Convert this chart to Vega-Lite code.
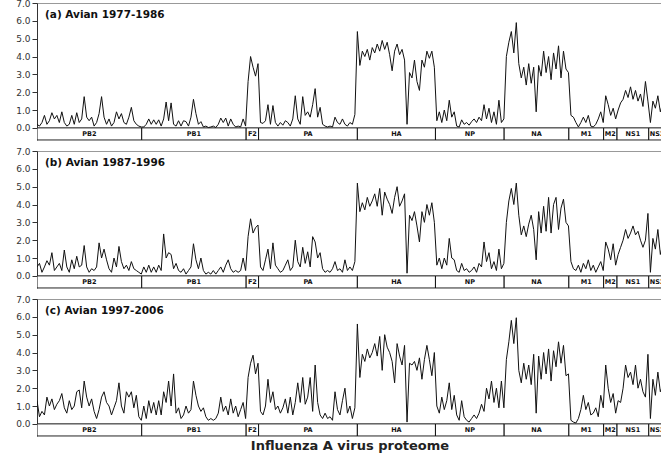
{
"$schema": "https://vega.github.io/schema/vega-lite/v6.json",
"autosize": {"type": "pad"},
"padding": {"left": 15, "top": -2, "right": 0, "bottom": 0},
"spacing": 5,
"config": {"view": {"stroke": "#999", "strokeWidth": 1}, "font": "DejaVu Sans"},
"datasets": {
"ent": [
{"x":0,"a":0.2,"b":0.5,"c":1.3},{"x":18,"a":0.1,"b":0.7,"c":0.4},{"x":36,"a":0.3,"b":0.2,"c":0.7},{"x":54,"a":0.7,"b":0.5,"c":0.5},{"x":72,"a":0.2,"b":0.85,"c":1.5},{"x":90,"a":0.4,"b":0.6,"c":1.0},{"x":108,"a":0.85,"b":1.3,"c":1.4},{"x":126,"a":0.5,"b":0.3,"c":0.8},{"x":144,"a":0.7,"b":0.5,"c":1.1},{"x":162,"a":0.3,"b":0.7,"c":1.3},
{"x":180,"a":0.9,"b":0.3,"c":1.7},{"x":198,"a":0.3,"b":1.45,"c":0.9},{"x":216,"a":0.1,"b":0.5,"c":0.6},{"x":234,"a":0.2,"b":0.2,"c":1.3},{"x":252,"a":0.7,"b":0.9,"c":0.8},{"x":270,"a":0.2,"b":0.4,"c":1.0},{"x":288,"a":0.85,"b":1.1,"c":1.8},{"x":306,"a":0.3,"b":0.5,"c":1.9},{"x":324,"a":0.5,"b":0.6,"c":0.9},{"x":342,"a":1.75,"b":1.7,"c":2.4},
{"x":360,"a":0.6,"b":0.5,"c":1.5},{"x":378,"a":0.4,"b":0.2,"c":1.0},{"x":396,"a":0.6,"b":0.4,"c":1.4},{"x":414,"a":0.1,"b":0.3,"c":0.7},{"x":432,"a":0.3,"b":0.5,"c":0.3},{"x":450,"a":0.8,"b":1.85,"c":0.8},{"x":468,"a":1.75,"b":1.0,"c":1.5},{"x":486,"a":0.6,"b":1.5,"c":1.8},{"x":504,"a":0.2,"b":0.9,"c":1.2},{"x":522,"a":0.5,"b":0.4,"c":1.0},
{"x":540,"a":0.1,"b":0.2,"c":0.5},{"x":558,"a":0.3,"b":1.0,"c":0.9},{"x":576,"a":0.9,"b":0.5,"c":1.3},{"x":594,"a":0.5,"b":1.65,"c":2.3},{"x":612,"a":0.8,"b":0.8,"c":1.0},{"x":630,"a":0.3,"b":0.4,"c":0.6},{"x":648,"a":0.2,"b":0.6,"c":1.8},{"x":666,"a":0.6,"b":0.3,"c":1.5},{"x":684,"a":1.15,"b":0.8,"c":1.8},{"x":702,"a":0.4,"b":0.4,"c":0.9},
{"x":720,"a":0.2,"b":0.3,"c":1.6},{"x":738,"a":0.1,"b":0.2,"c":0.4},{"x":756,"a":0.05,"b":0.1,"c":0.2},{"x":774,"a":0.05,"b":0.5,"c":1.0},{"x":792,"a":0.2,"b":0.2,"c":0.3},{"x":810,"a":0.5,"b":0.6,"c":1.3},{"x":828,"a":0.2,"b":0.2,"c":0.6},{"x":846,"a":0.45,"b":0.5,"c":1.2},{"x":864,"a":0.2,"b":0.2,"c":0.5},{"x":882,"a":0.45,"b":0.6,"c":1.3},
{"x":900,"a":0.1,"b":0.3,"c":0.5},{"x":918,"a":0.5,"b":2.35,"c":1.8},{"x":936,"a":1.45,"b":1.0,"c":1.2},{"x":954,"a":0.4,"b":1.3,"c":2.4},{"x":972,"a":1.4,"b":1.2,"c":1.0},{"x":990,"a":0.2,"b":0.4,"c":2.8},{"x":1008,"a":0.1,"b":0.7,"c":0.6},{"x":1026,"a":0.4,"b":0.3,"c":0.9},{"x":1044,"a":0.1,"b":0.2,"c":0.3},{"x":1062,"a":0.4,"b":0.4,"c":0.5},
{"x":1080,"a":0.35,"b":0.1,"c":1.0},{"x":1098,"a":0.1,"b":0.3,"c":0.6},{"x":1116,"a":0.6,"b":0.5,"c":0.8},{"x":1134,"a":1.6,"b":1.8,"c":2.4},{"x":1152,"a":0.8,"b":0.9,"c":1.6},{"x":1170,"a":0.2,"b":0.4,"c":1.0},{"x":1188,"a":0.35,"b":1.0,"c":0.7},{"x":1206,"a":0.05,"b":0.3,"c":0.9},{"x":1224,"a":0.1,"b":0.1,"c":0.4},{"x":1242,"a":0.02,"b":0.2,"c":0.2},
{"x":1260,"a":0.05,"b":0.1,"c":0.3},{"x":1278,"a":0.1,"b":0.3,"c":0.2},{"x":1296,"a":0.02,"b":0.1,"c":0.3},{"x":1314,"a":0.2,"b":0.3,"c":0.6},{"x":1332,"a":0.55,"b":0.5,"c":1.5},{"x":1350,"a":0.3,"b":0.2,"c":0.7},{"x":1368,"a":0.55,"b":0.6,"c":1.0},{"x":1386,"a":0.1,"b":0.9,"c":0.5},{"x":1404,"a":0.5,"b":0.4,"c":1.4},{"x":1422,"a":0.2,"b":0.2,"c":0.6},
{"x":1440,"a":0.05,"b":0.3,"c":1.0},{"x":1458,"a":0.1,"b":0.2,"c":0.4},{"x":1476,"a":0.05,"b":0.3,"c":0.8},{"x":1494,"a":0.5,"b":1.0,"c":1.2},{"x":1512,"a":0.1,"b":0.3,"c":0.3},{"x":1530,"a":2.6,"b":2.2,"c":2.6},{"x":1548,"a":4.0,"b":3.2,"c":3.4},{"x":1566,"a":3.4,"b":2.4,"c":3.85},{"x":1584,"a":2.9,"b":2.7,"c":2.8},{"x":1602,"a":3.6,"b":2.85,"c":3.4},
{"x":1620,"a":0.3,"b":0.5,"c":0.7},{"x":1638,"a":0.25,"b":0.3,"c":0.5},{"x":1656,"a":0.4,"b":0.9,"c":1.0},{"x":1674,"a":1.3,"b":1.5,"c":2.5},{"x":1692,"a":0.2,"b":0.4,"c":1.2},{"x":1710,"a":1.25,"b":1.85,"c":1.8},{"x":1728,"a":0.3,"b":0.6,"c":0.8},{"x":1746,"a":0.1,"b":0.4,"c":1.0},{"x":1764,"a":0.3,"b":0.2,"c":0.6},{"x":1782,"a":0.15,"b":0.3,"c":0.9},
{"x":1800,"a":0.4,"b":0.6,"c":1.4},{"x":1818,"a":0.3,"b":0.9,"c":0.6},{"x":1836,"a":0.1,"b":0.3,"c":1.5},{"x":1854,"a":0.5,"b":0.5,"c":0.5},{"x":1872,"a":1.8,"b":2.0,"c":1.2},{"x":1890,"a":0.5,"b":0.8,"c":2.3},{"x":1908,"a":0.2,"b":0.5,"c":1.2},{"x":1926,"a":1.75,"b":1.6,"c":2.6},{"x":1944,"a":0.7,"b":0.7,"c":1.1},{"x":1962,"a":0.9,"b":1.35,"c":1.5},
{"x":1980,"a":0.6,"b":0.5,"c":2.6},{"x":1998,"a":1.3,"b":2.2,"c":0.7},{"x":2016,"a":2.2,"b":1.9,"c":3.3},{"x":2034,"a":0.6,"b":1.0,"c":1.2},{"x":2052,"a":1.15,"b":1.3,"c":0.5},{"x":2070,"a":0.2,"b":0.4,"c":0.3},{"x":2088,"a":0.1,"b":0.2,"c":0.6},{"x":2106,"a":0.05,"b":0.3,"c":0.3},{"x":2124,"a":0.1,"b":0.2,"c":0.4},{"x":2142,"a":0.05,"b":0.4,"c":0.2},
{"x":2160,"a":0.6,"b":0.8,"c":1.8},{"x":2178,"a":0.3,"b":0.3,"c":0.8},{"x":2196,"a":0.2,"b":0.4,"c":0.5},{"x":2214,"a":0.5,"b":0.2,"c":1.3},{"x":2232,"a":0.2,"b":0.9,"c":2.0},{"x":2250,"a":0.1,"b":0.3,"c":0.6},{"x":2268,"a":0.3,"b":0.5,"c":1.0},{"x":2286,"a":0.2,"b":0.3,"c":0.3},{"x":2304,"a":0.75,"b":0.8,"c":0.9},{"x":2322,"a":5.4,"b":5.2,"c":5.6},
{"x":2340,"a":3.5,"b":3.6,"c":2.6},{"x":2358,"a":4.3,"b":4.1,"c":3.9},{"x":2376,"a":4.0,"b":3.7,"c":3.5},{"x":2394,"a":4.4,"b":4.4,"c":4.2},{"x":2412,"a":3.8,"b":3.9,"c":3.7},{"x":2430,"a":4.5,"b":4.2,"c":4.0},{"x":2448,"a":4.2,"b":4.6,"c":4.5},{"x":2466,"a":4.7,"b":3.9,"c":3.8},{"x":2484,"a":4.3,"b":4.9,"c":4.9},{"x":2502,"a":4.9,"b":3.4,"c":3.0},
{"x":2520,"a":4.4,"b":4.7,"c":5.0},{"x":2538,"a":4.8,"b":4.3,"c":4.3},{"x":2556,"a":4.1,"b":4.0,"c":4.0},{"x":2574,"a":3.2,"b":3.5,"c":3.5},{"x":2592,"a":4.3,"b":4.4,"c":2.3},{"x":2610,"a":4.7,"b":5.0,"c":4.5},{"x":2628,"a":4.1,"b":3.9,"c":3.8},{"x":2646,"a":4.4,"b":4.2,"c":3.3},{"x":2664,"a":3.8,"b":4.6,"c":4.4},{"x":2682,"a":0.2,"b":0.15,"c":0.1},
{"x":2700,"a":3.1,"b":3.4,"c":3.4},{"x":2718,"a":2.8,"b":3.1,"c":3.3},{"x":2736,"a":3.8,"b":3.6,"c":3.5},{"x":2754,"a":2.6,"b":2.8,"c":3.0},{"x":2772,"a":2.1,"b":1.9,"c":3.7},{"x":2790,"a":3.8,"b":3.6,"c":2.5},{"x":2808,"a":3.4,"b":3.0,"c":3.6},{"x":2826,"a":4.3,"b":4.0,"c":4.4},{"x":2844,"a":3.9,"b":3.4,"c":3.6},{"x":2862,"a":4.3,"b":4.1,"c":2.7},
{"x":2880,"a":3.4,"b":3.0,"c":4.0},{"x":2898,"a":0.4,"b":0.6,"c":1.0},{"x":2916,"a":0.9,"b":1.0,"c":0.6},{"x":2934,"a":0.3,"b":0.4,"c":1.5},{"x":2952,"a":1.0,"b":1.0,"c":0.8},{"x":2970,"a":0.4,"b":0.6,"c":1.3},{"x":2988,"a":1.55,"b":2.1,"c":2.3},{"x":3006,"a":0.6,"b":1.0,"c":0.8},{"x":3024,"a":0.9,"b":0.9,"c":1.6},{"x":3042,"a":0.1,"b":0.3,"c":0.5},
{"x":3060,"a":0.05,"b":0.2,"c":0.2},{"x":3078,"a":0.45,"b":0.7,"c":1.3},{"x":3096,"a":0.2,"b":0.3,"c":0.4},{"x":3114,"a":0.3,"b":0.4,"c":0.2},{"x":3132,"a":0.15,"b":0.2,"c":0.1},{"x":3150,"a":0.35,"b":0.3,"c":0.3},{"x":3168,"a":0.5,"b":0.5,"c":0.5},{"x":3186,"a":0.3,"b":0.2,"c":0.3},{"x":3204,"a":0.6,"b":0.7,"c":0.6},{"x":3222,"a":0.4,"b":0.5,"c":1.1},
{"x":3240,"a":1.3,"b":1.9,"c":0.7},{"x":3258,"a":0.5,"b":0.8,"c":2.0},{"x":3276,"a":1.1,"b":1.3,"c":1.4},{"x":3294,"a":0.3,"b":0.4,"c":2.4},{"x":3312,"a":0.9,"b":0.8,"c":1.2},{"x":3330,"a":0.2,"b":0.3,"c":2.0},{"x":3348,"a":1.55,"b":1.5,"c":0.9},{"x":3366,"a":0.3,"b":0.4,"c":2.4},{"x":3384,"a":0.5,"b":0.7,"c":0.9},{"x":3402,"a":4.0,"b":3.0,"c":3.6},
{"x":3420,"a":4.8,"b":4.2,"c":4.6},{"x":3438,"a":5.4,"b":4.9,"c":5.8},{"x":3456,"a":4.2,"b":4.0,"c":4.5},{"x":3474,"a":5.9,"b":5.2,"c":5.95},{"x":3492,"a":3.6,"b":3.4,"c":3.0},{"x":3510,"a":2.8,"b":2.3,"c":2.3},{"x":3528,"a":3.4,"b":2.8,"c":3.4},{"x":3546,"a":2.4,"b":2.2,"c":2.5},{"x":3564,"a":3.6,"b":2.9,"c":3.3},{"x":3582,"a":2.5,"b":3.4,"c":2.2},
{"x":3600,"a":3.4,"b":2.6,"c":3.9},{"x":3618,"a":0.9,"b":0.9,"c":0.6},{"x":3636,"a":3.5,"b":3.6,"c":3.8},{"x":3654,"a":2.9,"b":2.4,"c":2.5},{"x":3672,"a":4.3,"b":3.9,"c":4.0},{"x":3690,"a":3.1,"b":2.5,"c":2.8},{"x":3708,"a":4.0,"b":4.4,"c":4.2},{"x":3726,"a":2.7,"b":2.4,"c":2.4},{"x":3744,"a":4.2,"b":4.0,"c":4.1},{"x":3762,"a":3.3,"b":4.4,"c":3.2},
{"x":3780,"a":4.6,"b":2.6,"c":4.6},{"x":3798,"a":2.8,"b":3.8,"c":3.4},{"x":3816,"a":4.3,"b":4.3,"c":4.4},{"x":3834,"a":3.3,"b":3.0,"c":2.7},{"x":3852,"a":3.1,"b":2.8,"c":2.8},{"x":3870,"a":0.7,"b":0.8,"c":0.2},{"x":3888,"a":0.6,"b":0.4,"c":0.1},{"x":3906,"a":0.3,"b":0.3,"c":0.05},{"x":3924,"a":0.05,"b":0.6,"c":0.3},{"x":3942,"a":0.3,"b":0.2,"c":0.8},
{"x":3960,"a":0.6,"b":0.7,"c":1.6},{"x":3978,"a":0.3,"b":0.4,"c":0.8},{"x":3996,"a":0.7,"b":0.9,"c":1.2},{"x":4014,"a":0.1,"b":0.3,"c":0.5},{"x":4032,"a":0.05,"b":0.6,"c":0.6},{"x":4050,"a":0.2,"b":0.2,"c":0.9},{"x":4068,"a":0.5,"b":0.5,"c":0.4},{"x":4086,"a":0.9,"b":0.8,"c":1.6},{"x":4104,"a":0.3,"b":0.3,"c":0.9},{"x":4122,"a":1.8,"b":1.9,"c":3.3},
{"x":4140,"a":1.3,"b":1.5,"c":2.0},{"x":4158,"a":0.7,"b":0.9,"c":1.2},{"x":4176,"a":1.1,"b":1.8,"c":1.7},{"x":4194,"a":0.5,"b":0.6,"c":0.6},{"x":4212,"a":1.0,"b":1.2,"c":1.3},{"x":4230,"a":1.4,"b":1.6,"c":1.2},{"x":4248,"a":1.6,"b":2.0,"c":2.0},{"x":4266,"a":2.1,"b":2.6,"c":3.3},{"x":4284,"a":1.7,"b":2.1,"c":2.6},{"x":4302,"a":2.3,"b":2.4,"c":2.9},
{"x":4320,"a":1.6,"b":2.8,"c":2.2},{"x":4338,"a":2.1,"b":2.3,"c":3.3},{"x":4356,"a":1.5,"b":2.5,"c":2.0},{"x":4374,"a":1.9,"b":2.0,"c":2.5},{"x":4392,"a":1.2,"b":1.6,"c":1.8},{"x":4410,"a":2.6,"b":2.0,"c":1.5},{"x":4428,"a":1.5,"b":3.5,"c":3.9},{"x":4446,"a":0.3,"b":0.2,"c":0.3},{"x":4464,"a":1.5,"b":2.1,"c":2.5},{"x":4482,"a":1.1,"b":1.5,"c":1.6},
{"x":4500,"a":1.8,"b":2.6,"c":2.9},{"x":4518,"a":0.9,"b":1.2,"c":1.8},{"x":4536,"a":1.4,"b":1.8,"c":2.2}
],
"prot": [
{"protein":"PB2","start":0,"end":759,"mid":379.5},
{"protein":"PB1","start":759,"end":1516,"mid":1137.5},
{"protein":"F2","start":1516,"end":1606,"mid":1561},
{"protein":"PA","start":1606,"end":2322,"mid":1964},
{"protein":"HA","start":2322,"end":2888,"mid":2605},
{"protein":"NP","start":2888,"end":3386,"mid":3137},
{"protein":"NA","start":3386,"end":3855,"mid":3620.5},
{"protein":"M1","start":3855,"end":4107,"mid":3981},
{"protein":"M2","start":4107,"end":4204,"mid":4155.5},
{"protein":"NS1","start":4204,"end":4434,"mid":4319},
{"protein":"NS2","start":4434,"end":4555,"mid":4494.5}
]
},
"vconcat": [
{
"width": 625, "height": 137,
"encoding": {
 "y": {"type": "quantitative", "scale": {"domain": [-0.68, 7], "nice": false, "zero": false}, "axis": {"values": [0,1,2,3,4,5,6,7], "format": ".1f", "title": null, "grid": false, "labelFontSize": 9, "labelFont": "DejaVu Sans", "labelColor": "#333", "tickColor": "#333", "domainColor": "#333", "tickSize": 5, "labelPadding": 2}}
},
"layer": [
{"data": {"name": "prot"}, "mark": {"type": "rect", "fill": "white", "stroke": "#111", "strokeWidth": 1, "clip": true},
 "encoding": {"x": {"field": "start", "type": "quantitative", "scale": {"domain": [0, 4530], "nice": false, "zero": false}, "axis": null}, "x2": {"field": "end"},
  "y": {"datum": -0.68, "type": "quantitative"}, "y2": {"datum": 0}}},
{"data": {"name": "prot"}, "mark": {"type": "text", "fontSize": 6.5, "fontWeight": "bold", "font": "DejaVu Sans", "baseline": "middle", "color": "#111", "clip": true},
 "encoding": {"x": {"field": "mid", "type": "quantitative", "axis": null}, "y": {"datum": -0.34, "type": "quantitative"}, "text": {"field": "protein"}}},
{"data": {"name": "ent"}, "mark": {"type": "line", "color": "#111", "strokeWidth": 1, "clip": true},
 "encoding": {"x": {"field": "x", "type": "quantitative", "axis": null}, "y": {"field": "a", "type": "quantitative"}}},
{"data": {"values": [{"label": "(a) Avian 1977-1986"}]}, "mark": {"type": "text", "align": "left", "baseline": "middle", "fontSize": 10.5, "fontWeight": "bold", "font": "DejaVu Sans", "color": "#111"},
 "encoding": {"x": {"datum": 58, "type": "quantitative", "axis": null}, "y": {"datum": 6.32, "type": "quantitative"}, "text": {"field": "label"}}}
]
},
{
"width": 625, "height": 137,
"encoding": {
 "y": {"type": "quantitative", "scale": {"domain": [-0.68, 7], "nice": false, "zero": false}, "axis": {"values": [0,1,2,3,4,5,6,7], "format": ".1f", "title": null, "grid": false, "labelFontSize": 9, "labelFont": "DejaVu Sans", "labelColor": "#333", "tickColor": "#333", "domainColor": "#333", "tickSize": 5, "labelPadding": 2}}
},
"layer": [
{"data": {"name": "prot"}, "mark": {"type": "rect", "fill": "white", "stroke": "#111", "strokeWidth": 1, "clip": true},
 "encoding": {"x": {"field": "start", "type": "quantitative", "scale": {"domain": [0, 4530], "nice": false, "zero": false}, "axis": null}, "x2": {"field": "end"},
  "y": {"datum": -0.68, "type": "quantitative"}, "y2": {"datum": 0}}},
{"data": {"name": "prot"}, "mark": {"type": "text", "fontSize": 6.5, "fontWeight": "bold", "font": "DejaVu Sans", "baseline": "middle", "color": "#111", "clip": true},
 "encoding": {"x": {"field": "mid", "type": "quantitative", "axis": null}, "y": {"datum": -0.34, "type": "quantitative"}, "text": {"field": "protein"}}},
{"data": {"name": "ent"}, "mark": {"type": "line", "color": "#111", "strokeWidth": 1, "clip": true},
 "encoding": {"x": {"field": "x", "type": "quantitative", "axis": null}, "y": {"field": "b", "type": "quantitative"}}},
{"data": {"values": [{"label": "(b) Avian 1987-1996"}]}, "mark": {"type": "text", "align": "left", "baseline": "middle", "fontSize": 10.5, "fontWeight": "bold", "font": "DejaVu Sans", "color": "#111"},
 "encoding": {"x": {"datum": 58, "type": "quantitative", "axis": null}, "y": {"datum": 6.32, "type": "quantitative"}, "text": {"field": "label"}}}
]
},
{
"width": 625, "height": 137,
"encoding": {
 "x": {"type": "quantitative", "scale": {"domain": [0, 4530], "nice": false, "zero": false}, "axis": {"title": "Influenza A virus proteome", "labels": false, "ticks": false, "domain": false, "grid": false, "titleFontSize": 13, "titleFontWeight": "bold", "titleFont": "DejaVu Sans", "titleColor": "#222", "titlePadding": 3}},
 "y": {"type": "quantitative", "scale": {"domain": [-0.68, 7], "nice": false, "zero": false}, "axis": {"values": [0,1,2,3,4,5,6,7], "format": ".1f", "title": null, "grid": false, "labelFontSize": 9, "labelFont": "DejaVu Sans", "labelColor": "#333", "tickColor": "#333", "domainColor": "#333", "tickSize": 5, "labelPadding": 2}}
},
"layer": [
{"data": {"name": "prot"}, "mark": {"type": "rect", "fill": "white", "stroke": "#111", "strokeWidth": 1, "clip": true},
 "encoding": {"x": {"field": "start", "type": "quantitative"}, "x2": {"field": "end"},
  "y": {"datum": -0.68, "type": "quantitative"}, "y2": {"datum": 0}}},
{"data": {"name": "prot"}, "mark": {"type": "text", "fontSize": 6.5, "fontWeight": "bold", "font": "DejaVu Sans", "baseline": "middle", "color": "#111", "clip": true},
 "encoding": {"x": {"field": "mid", "type": "quantitative"}, "y": {"datum": -0.34, "type": "quantitative"}, "text": {"field": "protein"}}},
{"data": {"name": "ent"}, "mark": {"type": "line", "color": "#111", "strokeWidth": 1, "clip": true},
 "encoding": {"x": {"field": "x", "type": "quantitative"}, "y": {"field": "c", "type": "quantitative"}}},
{"data": {"values": [{"label": "(c) Avian 1997-2006"}]}, "mark": {"type": "text", "align": "left", "baseline": "middle", "fontSize": 10.5, "fontWeight": "bold", "font": "DejaVu Sans", "color": "#111"},
 "encoding": {"x": {"datum": 58, "type": "quantitative"}, "y": {"datum": 6.32, "type": "quantitative"}, "text": {"field": "label"}}}
]
}
]
}
